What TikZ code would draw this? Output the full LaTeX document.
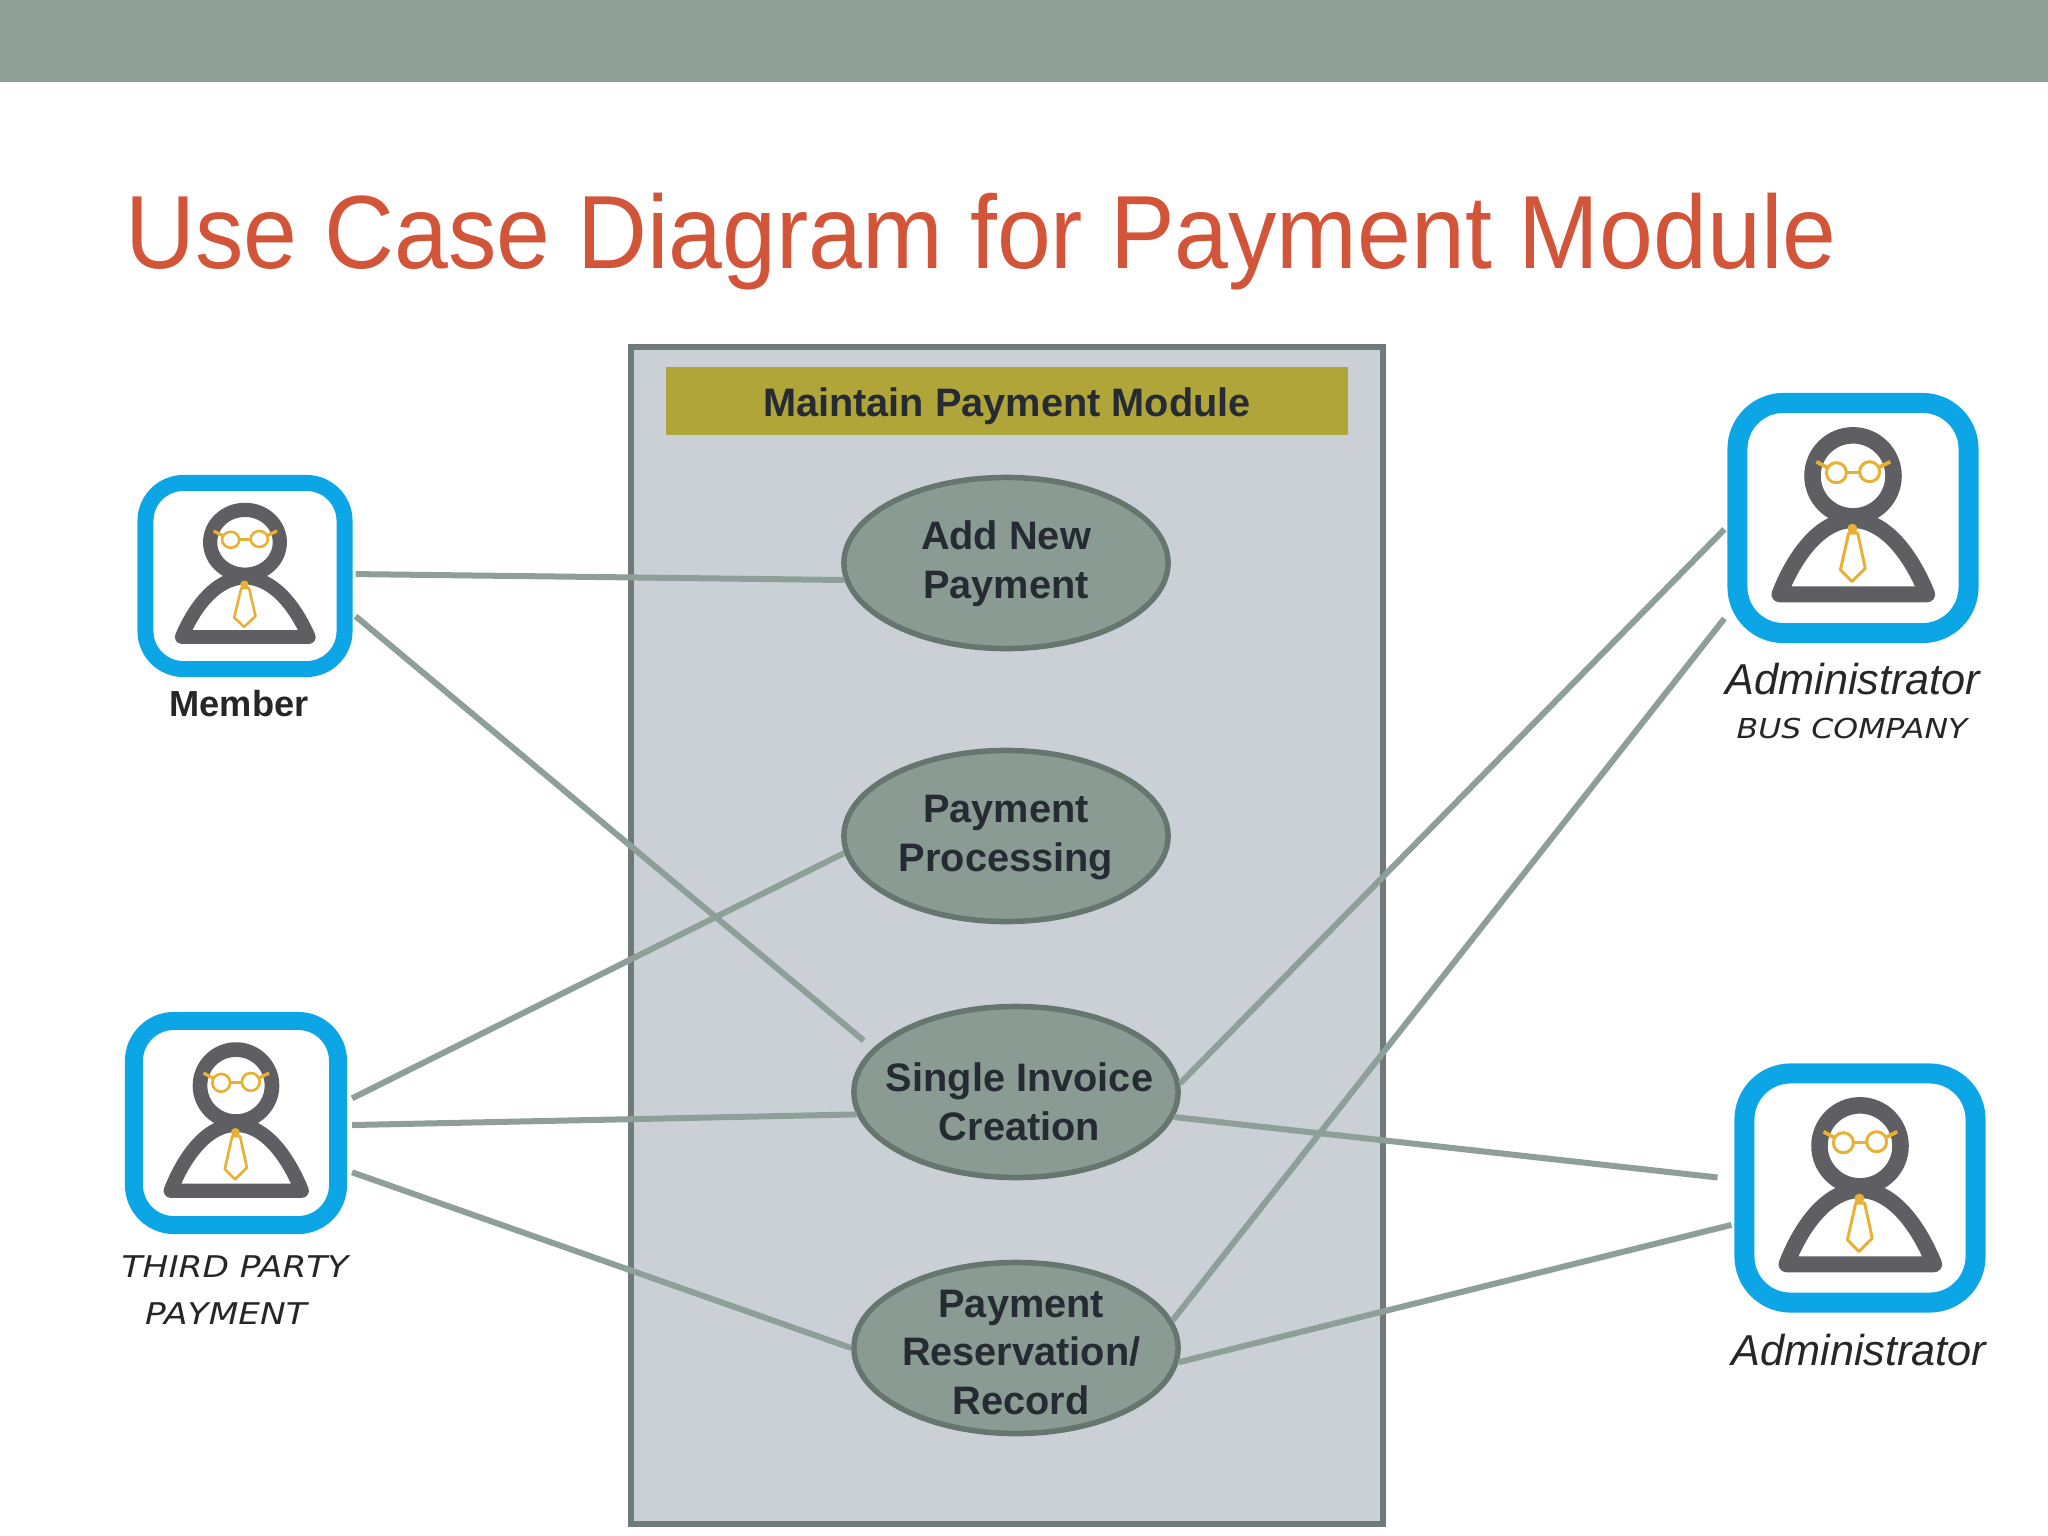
\documentclass[tikz,border=0pt]{standalone}
\usepackage{fontspec}
\setmainfont{Liberation Sans}
\newfontfamily\titlefont[FakeStretch=0.93]{Liberation Sans}
\newfontfamily\handfont[FakeStretch=1.15]{DejaVu Sans}
\usetikzlibrary{shapes.geometric}

\definecolor{bandgray}{HTML}{8FA098}
\definecolor{titlered}{HTML}{D2553A}
\definecolor{boxfill}{HTML}{CBD0D7}
\definecolor{boxline}{HTML}{6E7B7A}
\definecolor{headgold}{HTML}{AFA538}
\definecolor{casefill}{HTML}{8A9B93}
\definecolor{caseline}{HTML}{66766F}
\definecolor{linkgray}{HTML}{8E9E98}
\definecolor{iconblue}{HTML}{0CA6E6}
\definecolor{bodygray}{HTML}{5F5F63}
\definecolor{tiegold}{HTML}{E8B034}
\definecolor{inkdark}{HTML}{262A33}

% text of a use case, kept out of the ellipse size: right shift, down shift, lines
\newcommand{\casetext}[3]{\smash{\raisebox{\dimexpr-0.25em-#2\relax}{\kern#1\makebox[0pt]{\begin{tabular}{c}#3\end{tabular}}\kern-#1}}}

\tikzset{
  usecase/.style = {draw=caseline, fill=casefill, ellipse, line width=0.055cm, inner sep=0pt,
    minimum width=3.24cm, minimum height=1.71cm, text=inkdark,
    font=\fontsize{11.3}{13.8}\selectfont\bfseries},
  icon/.style = {draw=iconblue, inner sep=0pt},
  link/.style = {draw=linkgray, line width=0.06cm},
  actor/.style = {inner sep=0pt, text=black!85},
  hand/.style = {actor, font=\fontsize{8.5}{10}\selectfont\handfont\itshape},
  pics/person/.style 2 args = {code = {
    \begin{scope}[x=#1, y=#2]
    \draw[bodygray, line width=0.132*#1] (0,0.337) circle (0.324);
    \draw[bodygray, line width=0.128*#1, line join=round]
      (-0.588,-0.61) .. controls (-0.5,-0.38) and (-0.3,-0.02) .. (0,-0.016)
      .. controls (0.3,-0.02) and (0.5,-0.38) .. (0.593,-0.61) -- cycle;
    % tie and glasses
    \draw[tiegold, line width=0.024*#1, line join=round]
      (-0.034,-0.12) -- (-0.101,-0.415) -- (-0.008,-0.508) -- (0.098,-0.402) -- (0.037,-0.12) -- cycle;
    \fill[tiegold] (-0.005,-0.085) circle (0.04);
    \draw[tiegold, line width=0.024*#1] (-0.133,0.362) circle (0.08) (0.133,0.37) circle (0.08);
    \draw[tiegold, line width=0.024*#1] (-0.053,0.366) -- (0.053,0.366);
    \draw[tiegold, line width=0.03*#1] (-0.207,0.404) -- (-0.292,0.45) (0.205,0.404) -- (0.298,0.45);
    \end{scope}
  }}
}

\begin{document}
\begin{tikzpicture}[x=0.01cm, y=-0.01cm]
\useasboundingbox (0,0) rectangle (2048,1536);

%% slide band and title
\fill[bandgray] (0,0) rectangle (2048,82);
\node[anchor=base west, inner sep=0pt, text=titlered, font=\fontsize{29.6}{34}\selectfont\titlefont] (title) at (125,268) {Use Case Diagram for Payment Module};

%% system box
\node[draw=boxline, fill=boxfill, line width=0.06cm, inner sep=0pt, minimum width=7.52cm, minimum height=11.77cm] (system) at (1007,935.5) {};
\node[fill=headgold, inner sep=0pt, minimum width=6.82cm, minimum height=0.68cm, text height=9.5pt, text depth=0.6pt, text=inkdark, font=\fontsize{11.3}{13.6}\selectfont\bfseries] (header) at (1007,401) {Maintain Payment Module};

%% use cases
\node[usecase] (add) at (1006,563) {\casetext{0pt}{0.25pt}{Add New\\Payment}};
\node[usecase] (process) at (1006,836) {\casetext{0pt}{0.25pt}{Payment\\Processing}};
\node[usecase] (invoice) at (1016,1092) {\casetext{1pt}{3.93pt}{Single Invoice\\Creation}};
\node[usecase] (reserve) at (1016,1348) {\casetext{1.5pt}{2.14pt}{Payment\\Reservation/\\Record}};

%% actors
\node[icon, line width=0.16cm, rounded corners=0.38cm, outer sep=0.11cm, minimum width=1.99cm, minimum height=1.86cm] (member) at (245,576) {};
\node[icon, line width=0.18cm, rounded corners=0.4cm, outer sep=0.14cm, minimum width=2.04cm, minimum height=2.04cm] (third) at (236,1123) {};
\node[icon, line width=0.2cm, rounded corners=0.46cm, outer sep=0.13cm, minimum width=2.31cm, minimum height=2.3cm] (busadmin) at (1853,518) {};
\node[icon, line width=0.2cm, rounded corners=0.46cm, outer sep=0.13cm, minimum width=2.31cm, minimum height=2.29cm] (admin) at (1860,1188) {};
\pic at (member) {person={1.075cm}{1cm}};
\pic at (third) {person={1.11cm}{1.11cm}};
\pic at (busadmin) {person={1.25cm}{1.25cm}};
\pic at (admin) {person={1.25cm}{1.25cm}};

%% actor labels
\node[actor, font=\fontsize{10.3}{12}\selectfont\bfseries] (memberlabel) at (239,704) {Member};
\node[hand] (thirdlabel) at (235,1267) {THIRD PARTY};
\node[hand] (thirdlabelb) at (226,1314) {PAYMENT};
\node[actor, font=\fontsize{12.3}{14}\selectfont\itshape] (busadminlabel) at (1853,679) {Administrator};
\node[hand, font=\fontsize{7.8}{10}\selectfont\handfont\itshape] (busadminlabelb) at (1852,729) {BUS COMPANY};
\node[actor, font=\fontsize{12.3}{14}\selectfont\itshape] (adminlabel) at (1859,1350) {Administrator};

%%% connectors
\draw[link] (member.1) -- (add.186);
\draw[link, shorten >=0.12cm] (member.-20) -- (invoice.163);
\draw[link] (third.12) -- (process.186);
\draw[link] (third.-1) -- (invoice.188);
\draw[link] (third.-23) -- (reserve.180);
\draw[link] (invoice.3) -- (busadmin.185);
\draw[link] (reserve.10) -- (busadmin.218);
\draw[link, shorten >=0.14cm] (invoice.-9) -- (admin.176);
\draw[link] (reserve.-5) -- (admin.196);

\end{tikzpicture}
\end{document}
